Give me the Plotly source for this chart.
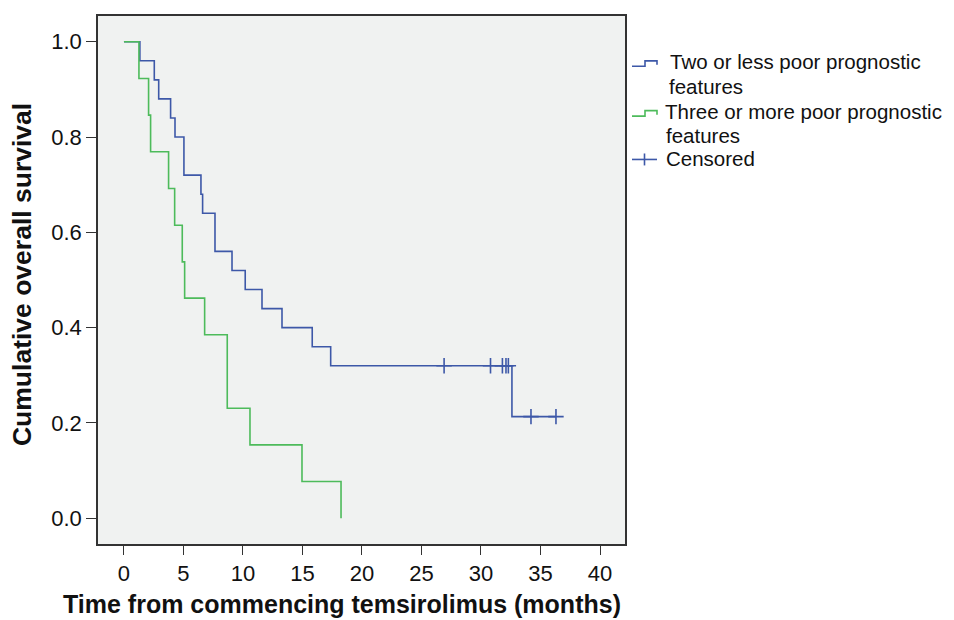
import plotly.graph_objects as go

# ---- data ----
blue_name = "Two or less poor prognostic features"
blue_t = [0, 1.34, 2.55, 2.92, 3.92, 4.29, 5.04, 6.47, 6.61, 7.65, 9.08, 10.19, 11.6, 13.28, 15.82, 17.37, 32.6, 36.3]
blue_s = [1.0, 0.96, 0.92, 0.88, 0.84, 0.80, 0.72, 0.68, 0.64, 0.56, 0.52, 0.48, 0.44, 0.40, 0.36, 0.32, 0.2133, 0.2133]
blue_cens_t = [26.9, 30.8, 31.8, 32.1, 32.3, 34.2, 36.3]
blue_cens_s = [0.32, 0.32, 0.32, 0.32, 0.32, 0.2133, 0.2133]

green_name = "Three or more poor prognostic features"
green_t = [0, 1.26, 2.07, 2.24, 3.75, 4.26, 4.9, 5.1, 6.78, 8.68, 10.59, 14.96, 18.24]
green_s = [1.0, 0.923, 0.846, 0.769, 0.692, 0.615, 0.538, 0.462, 0.385, 0.231, 0.154, 0.077, 0.0]

x_ticks = [0, 5, 10, 15, 20, 25, 30, 35, 40]
y_ticks = [0.0, 0.2, 0.4, 0.6, 0.8, 1.0]

BLUE = "#3d58a8"
GREEN = "#4dbb5b"
FONT = "Liberation Sans, Arial, sans-serif"

OFF = 8  # page body margin
W, H = 954 - OFF, 620 - OFF
ML, MR, MT, MB = 98 - OFF, 329, 14 - OFF, 76
PW, PH = W - ML - MR, H - MT - MB


def px(x):
    return (x - OFF - ML) / PW


def py(y):
    return (H - MB - (y - OFF)) / PH


fig = go.Figure()
fig.add_trace(go.Scatter(x=blue_t, y=blue_s, mode="lines", line=dict(color=BLUE, width=1.6, shape="hv"),
                         name=blue_name, showlegend=False))
fig.add_trace(go.Scatter(x=green_t, y=green_s, mode="lines", line=dict(color=GREEN, width=1.6, shape="hv"),
                         name=green_name, showlegend=False))
fig.add_trace(go.Scatter(x=blue_cens_t, y=blue_cens_s, mode="markers",
                         marker=dict(symbol="cross-thin", size=11, line=dict(color=BLUE, width=1.6)),
                         name="Censored", showlegend=False))

# ---- manual legend ----
shapes = []
annotations = []


def step_icon(y_low, y_high, color):
    path = (f"M {px(632)},{py(y_low)} L {px(645)},{py(y_low)} L {px(645)},{py(y_high)} "
            f"L {px(657)},{py(y_high)} L {px(657)},{py(y_high + 4)}")
    shapes.append(dict(type="path", xref="paper", yref="paper", path=path,
                       line=dict(color=color, width=1.6)))


step_icon(64.5, 59, BLUE)
step_icon(114.5, 109, GREEN)
shapes.append(dict(type="line", xref="paper", yref="paper", x0=px(632), x1=px(657), y0=py(158), y1=py(158),
                   line=dict(color=BLUE, width=1.6)))
shapes.append(dict(type="line", xref="paper", yref="paper", x0=px(644.5), x1=px(644.5), y0=py(152), y1=py(164),
                   line=dict(color=BLUE, width=1.6)))

legend_lines = [
    ("Two or less poor prognostic", 668, 60),
    ("features", 667, 85),
    ("Three or more poor prognostic", 663, 110),
    ("features", 664, 134),
    ("Censored", 664, 157),
]
for txt, x, y in legend_lines:
    annotations.append(dict(text=txt, x=px(x), y=py(y), xref="paper", yref="paper",
                            xanchor="left", yanchor="middle", showarrow=False,
                            font=dict(family=FONT, size=20.5, color="#111")))

# axis titles
annotations.append(dict(text="<b>Time from commencing temsirolimus (months)</b>", x=px(342), y=py(604),
                        xref="paper", yref="paper", xanchor="center", yanchor="middle", showarrow=False,
                        font=dict(family=FONT, size=25, color="#111")))
annotations.append(dict(text="<b>Cumulative overall survival</b>", x=px(22), y=py(274), textangle=-90,
                        xref="paper", yref="paper", xanchor="center", yanchor="middle", showarrow=False,
                        font=dict(family=FONT, size=26.5, color="#111")))

fig.update_layout(
    width=W, height=H,
    margin=dict(l=ML, r=MR, t=MT, b=MB),
    paper_bgcolor="white",
    plot_bgcolor="#f0f2f1",
    showlegend=False,
    shapes=shapes,
    annotations=annotations,
    font=dict(family=FONT, size=22, color="#111"),
)
fig.update_xaxes(range=[-2.18, 42.1], tickvals=x_ticks, ticktext=[str(v) for v in x_ticks],
                 ticks="outside", ticklen=9, tickwidth=1.3, tickcolor="#333",
                 showline=True, linecolor="#333", linewidth=1.6, mirror=True,
                 showgrid=False, zeroline=False, tickfont=dict(family=FONT, size=22, color="#111"))
fig.update_yaxes(range=[-0.054, 1.054], tickvals=y_ticks, ticktext=[f"{v:.1f}" for v in y_ticks],
                 ticks="outside", ticklen=10, tickwidth=1.3, tickcolor="#333",
                 showline=True, linecolor="#333", linewidth=1.6, mirror=True,
                 showgrid=False, zeroline=False, tickfont=dict(family=FONT, size=22, color="#111"))

fig.write_html("out.html")
